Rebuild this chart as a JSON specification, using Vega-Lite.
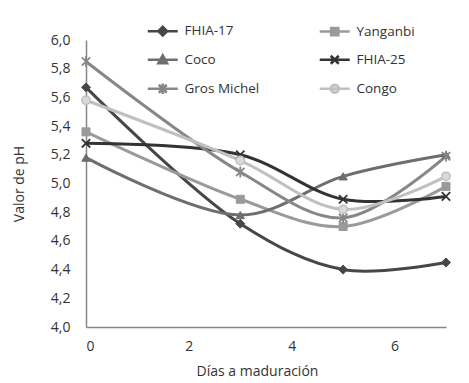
{
  "$schema": "https://vega.github.io/schema/vega-lite/v6.json",
  "width": 360,
  "height": 287,
  "autosize": {"type": "none"},
  "padding": {"left": 86, "top": 40, "right": 23, "bottom": 56},
  "background": "white",
  "config": {
    "view": {"stroke": null},
    "font": "Open Sans",
    "axis": {
      "domainColor": "#868686",
      "domainWidth": 1.5,
      "ticks": false,
      "tickSize": 0,
      "grid": false,
      "labelColor": "#333333",
      "labelFont": "Open Sans",
      "labelFontSize": 14,
      "titleColor": "#333333",
      "titleFont": "Open Sans",
      "titleFontSize": 14,
      "titleFontWeight": "normal"
    },
    "legend": {
      "orient": "none",
      "legendX": 70,
      "legendY": -16,
      "columns": 2,
      "direction": "horizontal",
      "gridAlign": "all",
      "columnPadding": 54,
      "rowPadding": 8,
      "symbolSize": 64,
      "symbolStrokeWidth": 2.5,
      "symbolOpacity": 1,
      "labelOffset": 15,
      "labelFont": "Open Sans",
      "labelFontSize": 13.5,
      "labelColor": "#333333",
      "labelLimit": 200
    }
  },
  "data": {
    "values": [
      {"serie": "FHIA-17", "dia": 0, "ph": 5.67},
      {"serie": "FHIA-17", "dia": 3, "ph": 4.72},
      {"serie": "FHIA-17", "dia": 5, "ph": 4.40},
      {"serie": "FHIA-17", "dia": 7, "ph": 4.45},
      {"serie": "Yanganbi", "dia": 0, "ph": 5.36},
      {"serie": "Yanganbi", "dia": 3, "ph": 4.89},
      {"serie": "Yanganbi", "dia": 5, "ph": 4.70},
      {"serie": "Yanganbi", "dia": 7, "ph": 4.98},
      {"serie": "Coco", "dia": 0, "ph": 5.18},
      {"serie": "Coco", "dia": 3, "ph": 4.78},
      {"serie": "Coco", "dia": 5, "ph": 5.05},
      {"serie": "Coco", "dia": 7, "ph": 5.20},
      {"serie": "FHIA-25", "dia": 0, "ph": 5.28},
      {"serie": "FHIA-25", "dia": 3, "ph": 5.20},
      {"serie": "FHIA-25", "dia": 5, "ph": 4.89},
      {"serie": "FHIA-25", "dia": 7, "ph": 4.91},
      {"serie": "Gros Michel", "dia": 0, "ph": 5.85},
      {"serie": "Gros Michel", "dia": 3, "ph": 5.08},
      {"serie": "Gros Michel", "dia": 5, "ph": 4.76},
      {"serie": "Gros Michel", "dia": 7, "ph": 5.19},
      {"serie": "Congo", "dia": 0, "ph": 5.58},
      {"serie": "Congo", "dia": 3, "ph": 5.16},
      {"serie": "Congo", "dia": 5, "ph": 4.82},
      {"serie": "Congo", "dia": 7, "ph": 5.05}
    ]
  },
  "encoding": {
    "x": {
      "field": "dia", "type": "quantitative",
      "scale": {"domain": [0, 7], "nice": false},
      "axis": {"values": [0, 2, 4, 6], "title": "Días a maduración", "labelPadding": 12, "titlePadding": 11, "titleX": 171}
    },
    "y": {
      "field": "ph", "type": "quantitative",
      "scale": {"domain": [4, 6], "nice": false, "zero": false},
      "axis": {
        "values": [4.0, 4.2, 4.4, 4.6, 4.8, 5.0, 5.2, 5.4, 5.6, 5.8, 6.0],
        "labelExpr": "replace(format(datum.value, '.1f'), '.', ',')",
        "title": "Valor de pH",
        "labelPadding": 16,
        "titlePadding": 24
      }
    }
  },
  "layer": [
    {
      "mark": {"type": "line", "interpolate": "catmull-rom", "strokeWidth": 3},
      "encoding": {
        "stroke": {
          "field": "serie", "type": "nominal",
          "scale": {"domain": ["FHIA-17", "Yanganbi", "Coco", "FHIA-25", "Gros Michel", "Congo"],
                    "range": ["#474747", "#9a9a9a", "#6e6e6e", "#333333", "#878787", "#c0c0c0"]},
          "legend": {"title": null}
        }
      }
    },
    {
      "transform": [{"filter": "datum.serie === 'FHIA-17'"}],
      "mark": {"type": "point", "shape": "diamond", "size": 80, "filled": true, "fill": "#474747", "stroke": "#474747", "strokeWidth": 1, "opacity": 1}
    },
    {
      "transform": [{"filter": "datum.serie === 'Yanganbi'"}],
      "mark": {"type": "point", "shape": "square", "size": 64, "filled": true, "fill": "#9a9a9a", "stroke": "#9a9a9a", "strokeWidth": 1, "opacity": 1}
    },
    {
      "transform": [{"filter": "datum.serie === 'Coco'"}],
      "mark": {"type": "point", "shape": "triangle-up", "size": 70, "filled": true, "fill": "#6e6e6e", "stroke": "#6e6e6e", "strokeWidth": 1, "opacity": 1}
    },
    {
      "transform": [{"filter": "datum.serie === 'FHIA-25'"}],
      "mark": {"type": "point", "shape": "M-1,-1L1,1M-1,1L1,-1", "size": 70, "filled": false, "stroke": "#333333", "strokeWidth": 1.8, "opacity": 1}
    },
    {
      "transform": [{"filter": "datum.serie === 'Gros Michel'"}],
      "mark": {"type": "point", "shape": "M-1,-1L1,1M-1,1L1,-1M0,-1.3L0,1.3", "size": 70, "filled": false, "stroke": "#878787", "strokeWidth": 1.8, "opacity": 1}
    },
    {
      "transform": [{"filter": "datum.serie === 'Congo'"}],
      "mark": {"type": "point", "shape": "circle", "size": 70, "filled": true, "fill": "#d9d9d9", "stroke": "#c0c0c0", "strokeWidth": 1.5, "opacity": 1}
    },
    {
      "transform": [{"filter": "datum.dia < 0"}],
      "mark": {"type": "point", "size": 64, "strokeWidth": 2.5, "opacity": 1},
      "encoding": {
        "stroke": {"field": "serie", "type": "nominal", "legend": {"title": null}},
        "fill": {
          "field": "serie", "type": "nominal",
          "scale": {"domain": ["FHIA-17", "Yanganbi", "Coco", "FHIA-25", "Gros Michel", "Congo"],
                    "range": ["#474747", "#9a9a9a", "#6e6e6e", "transparent", "transparent", "#d9d9d9"]},
          "legend": {"title": null}
        },
        "shape": {
          "field": "serie", "type": "nominal",
          "scale": {"domain": ["FHIA-17", "Yanganbi", "Coco", "FHIA-25", "Gros Michel", "Congo"],
                    "range": [
                      "M-3.75,0L3.75,0M-1.1,0L0,-1.1L1.1,0L0,1.1Z",
                      "M-3.75,0L3.75,0M-0.9,-0.9L0.9,-0.9L0.9,0.9L-0.9,0.9Z",
                      "M-3.75,0L3.75,0M0,-1.1L1.1,0.9L-1.1,0.9Z",
                      "M-3.75,0L3.75,0M-1,-1L1,1M-1,1L1,-1",
                      "M-3.75,0L3.75,0M-1,-1L1,1M-1,1L1,-1M0,-1.3L0,1.3",
                      "M-3.75,0L3.75,0M-1,0A1,1 0 1,0 1,0A1,1 0 1,0 -1,0Z"
                    ]},
          "legend": {"title": null}
        }
      }
    }
  ]
}
